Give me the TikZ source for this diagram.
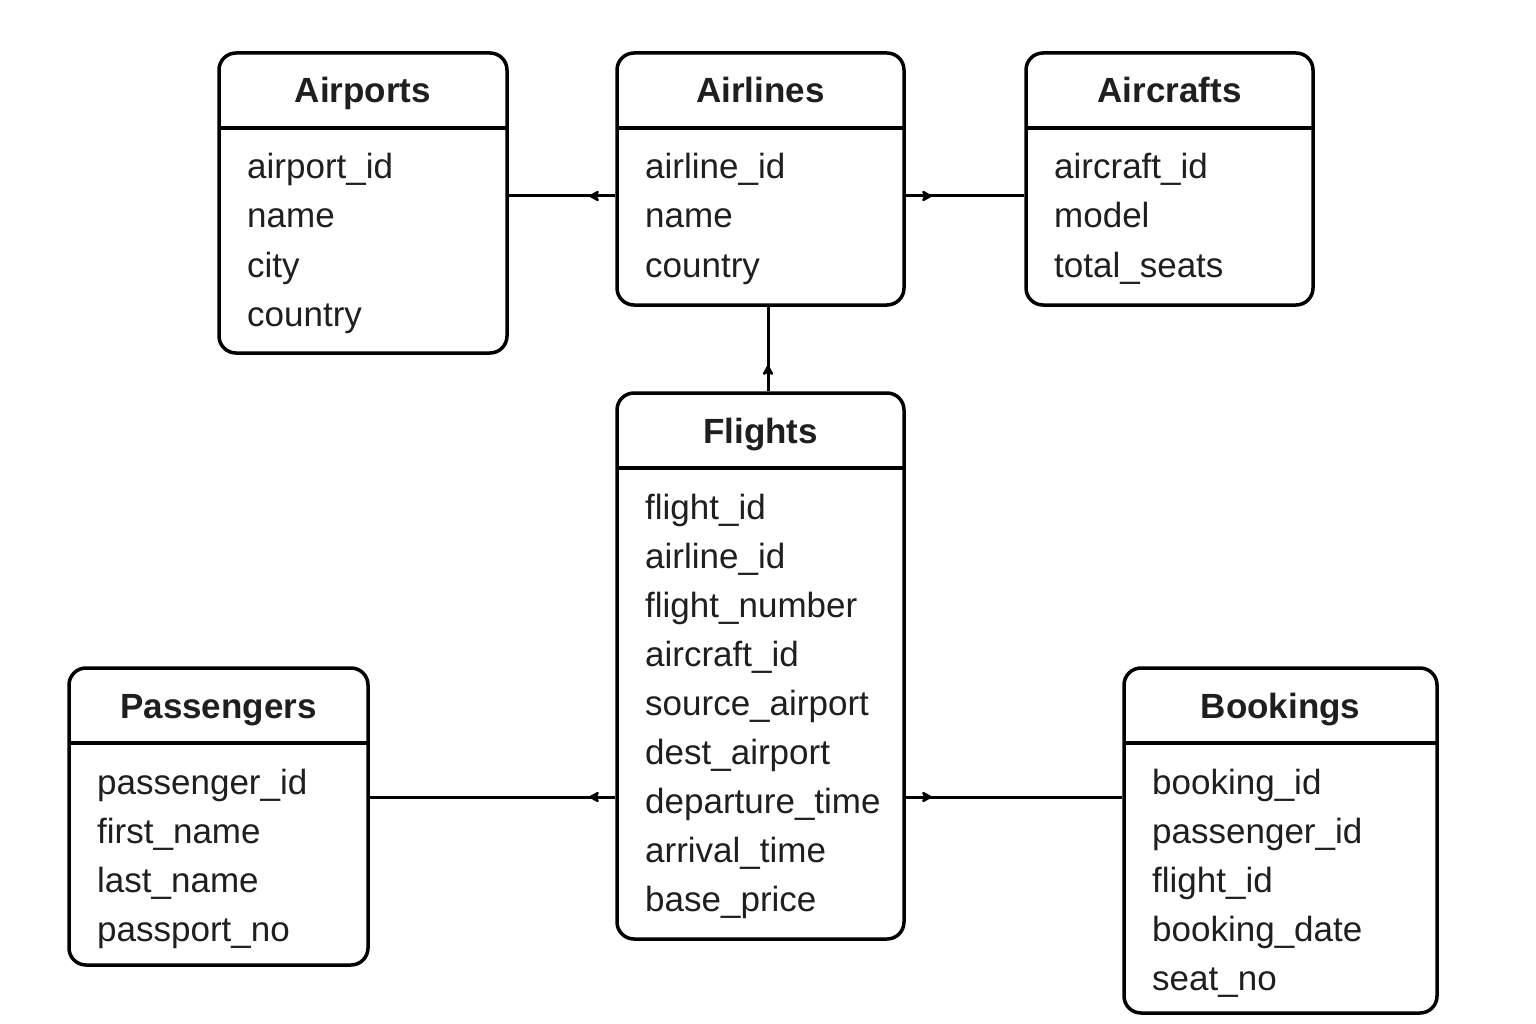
\documentclass[tikz,border=0pt]{standalone}
\usepackage{fontspec}
\setmainfont{Liberation Sans}
\usetikzlibrary{arrows.meta,decorations.markings}
\tikzset{
  erbox/.style={draw, line width=3.5pt, rounded corners=17pt, inner sep=0pt, fill=white},
  erline/.style={line width=3.2pt},
  ertitle/.style={anchor=base, inner sep=0pt, font=\fontsize{35}{40}\selectfont\bfseries, text=black!88},
  erattr/.style={anchor=base west, inner sep=0pt, font=\fontsize{35}{40}\selectfont, text=black!88},
  conn/.style={line width=3pt, postaction={decorate},
    decoration={markings, mark=at position 26pt with {\arrow{Stealth[length=12pt,width=13pt,inset=3pt,round]}}}}
}
\newcommand{\ertable}[7]{%
  \node[erbox, minimum width={(#4-#2)*1pt}, minimum height={(#5-#3)*1pt}] (#1) at ({(#2+#4)/2},{(#3+#5)/2}) {};
  \draw[erline] (#2,#3+75) -- (#4,#3+75);
  \node[ertitle] (#1-title) at ({(#2+#4)/2},#3+50) {#6};
  \foreach \r [count=\i] in {#7} {\node[erattr] (#1-\i) at (#2+28,{#3+126+49*(\i-1)}) {\r};}
}
\begin{document}
\begin{tikzpicture}[x=1pt,y=-1pt]
\useasboundingbox (0,0) rectangle (1536,1024);
\ertable{airports}{219}{53}{507}{353}{Airports}{airport\_id,name,city,country}
\ertable{airlines}{617}{53}{904}{305}{Airlines}{airline\_id,name,country}
\ertable{aircrafts}{1026}{53}{1313}{305}{Aircrafts}{aircraft\_id,model,total\_seats}
\ertable{flights}{617}{393}{904}{939}{Flights}{flight\_id,airline\_id,flight\_number,aircraft\_id,source\_airport,dest\_airport,departure\_time,arrival\_time,base\_price}
\ertable{passengers}{69}{668}{368}{965}{Passengers}{passenger\_id,first\_name,last\_name,passport\_no}
\ertable{bookings}{1124}{668}{1437}{1013}{Bookings}{booking\_id,passenger\_id,flight\_id,booking\_date,seat\_no}
\draw[conn] (airlines.west |- 0,196) -- (airports.east |- 0,196);
\draw[conn] (airlines.east |- 0,196) -- (aircrafts.west |- 0,196);
\draw[conn] (flights.north -| 768,0) -- (airlines.south -| 768,0);
\draw[conn] (flights.west |- 0,797) -- (passengers.east |- 0,797);
\draw[conn] (flights.east |- 0,797) -- (bookings.west |- 0,797);
\end{tikzpicture}
\end{document}
